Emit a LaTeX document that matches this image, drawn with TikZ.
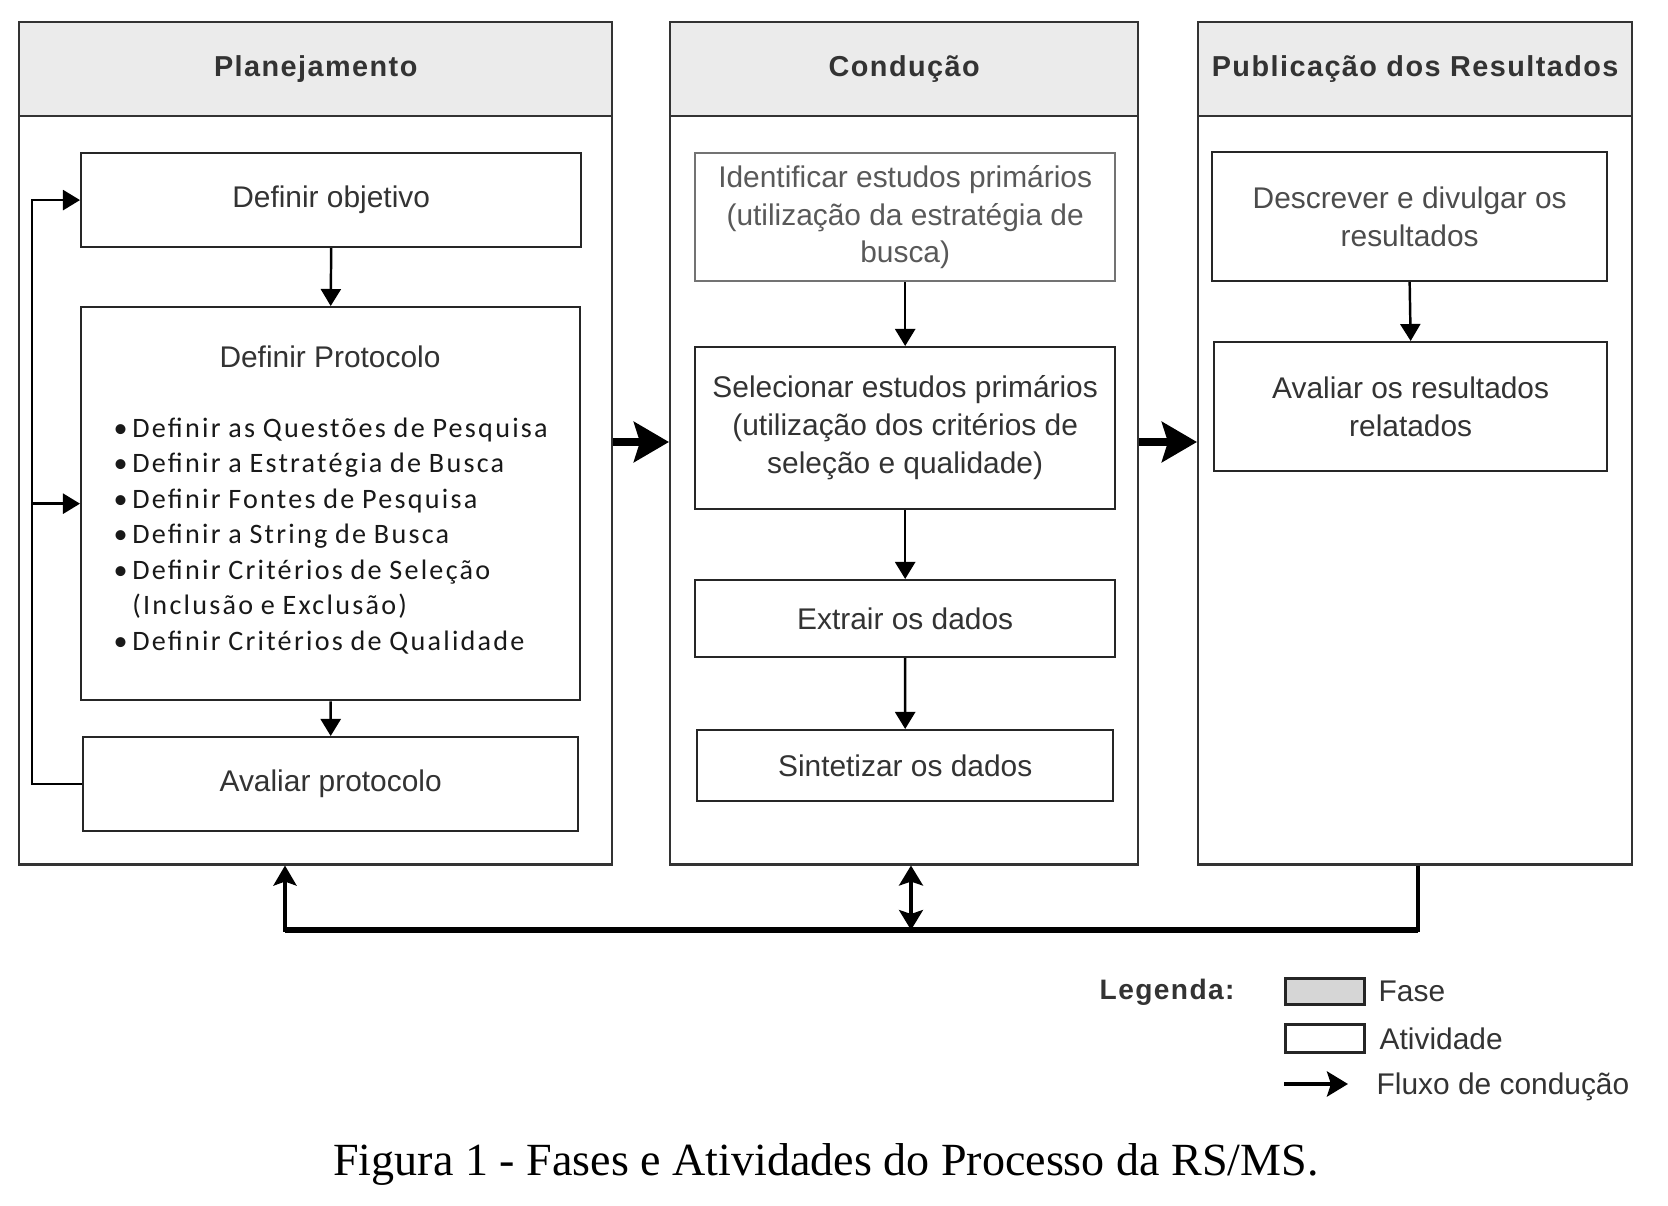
\documentclass[tikz,border=0pt]{standalone}
\usepackage{fontspec}
\setmainfont{Liberation Sans}
\newfontfamily\headfont[LetterSpace=5]{Liberation Sans}
\newfontfamily\itemfont[LetterSpace=8,WordSpace=0.9]{Carlito}
\newfontfamily\capfont{Liberation Serif}
\usepackage{tikz}
\usetikzlibrary{arrows.meta,calc,positioning}
\definecolor{phasegray}{HTML}{EBEBEB}
\definecolor{legendgray}{HTML}{D6D6D6}
\definecolor{boxtext}{HTML}{333333}

\begin{document}
\begin{tikzpicture}[x=0.01cm,y=-0.01cm,
    phasehead/.style={draw=black!80, line width=0.6pt, fill=phasegray, anchor=north west,
      inner sep=0pt, minimum height=0.94cm, text=boxtext,
      font=\headfont\bfseries\fontsize{8.2}{10}\selectfont},
    phasebody/.style={draw=black!80, line width=0.6pt, anchor=north west, inner sep=0pt,
      minimum height=7.48cm},
    activity/.style={draw=black!85, line width=0.6pt, anchor=north west, inner sep=0pt,
      align=center, text=boxtext, font=\fontsize{8.5}{10.8}\selectfont},
    acttext/.style={inner sep=0pt, text=boxtext, font=\fontsize{8.5}{10.8}\selectfont},
    flow/.style={line width=0.7pt, -{Triangle[length=1.7mm,width=2mm]}},
    bigflow/.style={line width=2.4pt, -{Stealth[length=3.5mm,width=4mm,inset=0.6mm]}},
    backflow/.style={line width=1.2pt, -{Stealth[length=2mm,width=2.3mm,inset=0.4mm]}},
    legflow/.style={line width=1.2pt, -{Stealth[length=2.1mm,width=2.5mm,inset=0.4mm]}}
  ]
    % background and page size
    \fill[white] (0,0) rectangle (1668,1206);
    \useasboundingbox (0,0) rectangle (1668,1206);

    % Phases
    \node[phasebody, minimum width=5.93cm] (planB) at (18,115) {};
    \node[phasehead, minimum width=5.93cm] (planH) at (18,21) {Planejamento};
    \node[phasebody, minimum width=4.68cm] (condB) at (669,115) {};
    \node[phasehead, minimum width=4.68cm] (condH) at (669,21) {Condução};
    \node[phasebody, minimum width=4.34cm] (pubB) at (1197,115) {};
    \node[phasehead, minimum width=4.34cm] (pubH) at (1197,21) {Publicação dos Resultados};

    % Planejamento
    \node[activity, minimum width=5cm, minimum height=0.94cm] (obj) at (80,152) {Definir objetivo};
    \node[activity, minimum width=4.99cm, minimum height=3.93cm] (proto) at (80,306) {};
    \node[acttext] (protoT) at (330,357) {Definir Protocolo};
    \node[anchor=west, inner sep=0pt, align=left, text=black!90,
      font=\itemfont\fontsize{8}{10.1}\selectfont] (protoL) at (113,536)
      {\textbullet\,Definir as Questões de Pesquisa\\
       \textbullet\,Definir a Estratégia de Busca\\
       \textbullet\,Definir Fontes de Pesquisa\\
       \textbullet\,Definir a String de Busca\\
       \textbullet\,Definir Critérios de Seleção\\
       \hphantom{\textbullet\,}(Inclusão e Exclusão)\\
       \textbullet\,Definir Critérios de Qualidade};
    \node[activity, minimum width=4.95cm, minimum height=0.94cm] (aval) at (82,736) {Avaliar protocolo};

    \draw[flow] (obj.south) -- (proto.north);
    \draw[flow] (proto.south) -- (aval.north);
    \coordinate (loopx) at (32,0);
    \draw[flow] (aval.west) -- (aval.west -| loopx) |- (obj.west);
    \draw[flow] (proto.west -| loopx) -- (proto.west);

    % Conducao
    \node[activity, draw=black!55, text=black!65, minimum width=4.2cm, minimum height=1.28cm] (ident) at (694,152)
      {Identificar estudos primários\\(utilização da estratégia de\\busca)};
    \node[activity, minimum width=4.2cm, minimum height=1.62cm] (selec) at (694,346)
      {Selecionar estudos primários\\(utilização dos critérios de\\seleção e qualidade)};
    \node[activity, minimum width=4.2cm, minimum height=0.77cm] (extr) at (694,579) {Extrair os dados};
    \node[activity, minimum width=4.16cm, minimum height=0.71cm] (sint) at (696,729) {Sintetizar os dados};

    \draw[flow] (ident.south) -- (selec.north);
    \draw[flow] (selec.south) -- (extr.north);
    \draw[flow] (extr.south) -- (sint.north);

    % Publicacao
    \node[activity, text=black!70, minimum width=3.95cm, minimum height=1.29cm] (descr) at (1211,151)
      {Descrever e divulgar os\\resultados};
    \node[activity, minimum width=3.93cm, minimum height=1.29cm] (avres) at (1213,341)
      {Avaliar os resultados\\relatados};

    \draw[flow] (descr.south) -- (avres.north);

    % between phases
    \coordinate (midrow) at (0,442);
    \draw[bigflow] (planB.east |- midrow) -- (condB.west |- midrow);
    \draw[bigflow] (condB.east |- midrow) -- (pubB.west |- midrow);

    % back to the phases
    \coordinate (busL) at (285,930);
    \coordinate (busM) at (911,930);
    \coordinate (busR) at (1418,930);
    \draw[backflow] (busR |- pubB.south) -- (busR) -- (busL) -- (busL |- planB.south);
    \draw[line width=1.7pt] (busR) -- (busL);
    \draw[line width=0.9pt, {Stealth[length=2mm,width=2.4mm,inset=0.4mm]}-{Stealth[length=2mm,width=2.4mm,inset=0.4mm]}]
      (busM |- condB.south) -- (busM);

    % Legend
    \node[anchor=west, inner sep=0pt, text=boxtext, font=\headfont\bfseries\fontsize{8}{10}\selectfont] (legT) at (1099,992) {Legenda:};
    \node[draw=black!85, line width=0.8pt, fill=legendgray, anchor=north west, inner sep=0pt,
      minimum width=0.79cm, minimum height=0.26cm] (legF) at (1284,977) {};
    \node[acttext, anchor=west] (legFt) at (1378,991) {Fase};
    \node[draw=black!85, line width=0.8pt, anchor=north west, inner sep=0pt,
      minimum width=0.79cm, minimum height=0.28cm] (legA) at (1284,1023) {};
    \node[acttext, anchor=west] (legAt) at (1379,1039) {Atividade};
    \coordinate (legS) at (1284,1084);
    \coordinate (legE) at (1348,1084);
    \draw[legflow] (legS) -- (legE);
    \node[acttext, anchor=west] (legCt) at (1376,1087) {Fluxo de condução};

    % Caption
    \node[inner sep=0pt, font=\capfont\fontsize{13.1}{15}\selectfont] (cap) at (826,1164)
      {Figura 1 - Fases e Atividades do Processo da RS/MS.};
\end{tikzpicture}
\end{document}
